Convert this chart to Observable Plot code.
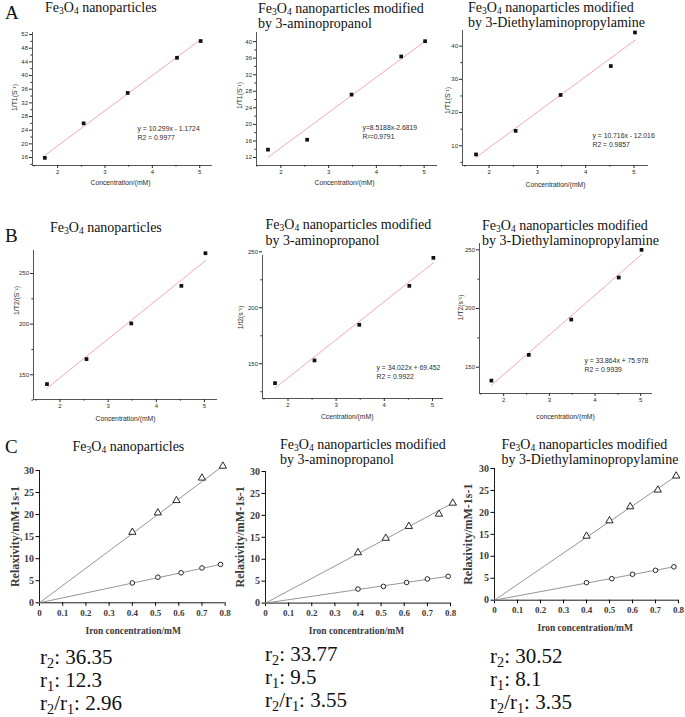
<!DOCTYPE html>
<html><head><meta charset="utf-8">
<script src="https://cdn.jsdelivr.net/npm/d3@7"></script>
<script src="https://cdn.jsdelivr.net/npm/@observablehq/plot@0.6"></script>
<style>
body{margin:0;background:#fff;}
#fig{position:relative;width:685px;height:717px;overflow:hidden;background:#fff;}
.t{position:absolute;font-family:"Liberation Serif","Times New Roman",Tinos,"DejaVu Serif",serif;white-space:nowrap;color:#111;}
.t sub{font-size:0.68em;vertical-align:-0.26em;line-height:0;}
</style></head><body><div id="fig"></div><script>
// ---------- data ----------
const concentration = [1.73, 2.55, 3.48, 4.52, 5.02];
const invT1_Fe3O4 = [15.9, 26.0, 34.9, 45.2, 50.1];
const invT1_AP = [13.9, 16.3, 27.2, 36.4, 40.1];
const invT1_DEAPA = [7.4, 14.5, 25.3, 34.0, 44.1];
const invT2_Fe3O4 = [140.8, 165.5, 200.7, 237.8, 270.0];
const invT2_AP = [132.7, 153.0, 184.8, 219.6, 244.6];
const invT2_DEAPA = [138.6, 160.5, 190.6, 226.4, 250.0];
const fitT1Slope = [10.299, 8.5188, 10.716];
const fitT1Intercept = [-1.1724, -2.6819, -12.016];
const fitT2Slope = [38.3, 34.022, 33.864];
const fitT2Intercept = [70.5, 69.452, 75.978];
const eqT1 = ["y = 10.299x - 1.1724\nR2 = 0.9977", "y=8.5188x-2.6819\nR²=0.9791", "y = 10.716x - 12.016\nR2 = 0.9857"];
const eqT2 = [null, "y = 34.022x + 69.452\nR2 = 0.9922", "y = 33.864x + 75.978\nR2 = 0.9939"];

const concTicks = [2, 3, 4, 5];
const concMinor = [1.5, 2.5, 3.5, 4.5];
const t1TicksA1 = [16, 20, 24, 28, 32, 36, 40, 44, 48, 52];
const t1MinorA1 = [14, 18, 22, 26, 30, 34, 38, 42, 46, 50];
const t1TicksA2 = [12, 16, 20, 24, 28, 32, 36, 40];
const t1MinorA2 = [14, 18, 22, 26, 30, 34, 38];
const t1TicksA3 = [10, 20, 30, 40];
const t1MinorA3 = [5, 15, 25, 35];
const t2Ticks = [150, 200, 250];
const t2Minor = [125, 175, 225];

// Relaxivity panels (r2: triangles, r1: circles)
const ironR2_Fe3O4 = [0.40, 0.51, 0.59, 0.70, 0.79];
const r2_Fe3O4 = [16.0, 20.4, 23.2, 28.3, 31.0];
const ironR1_Fe3O4 = [0.40, 0.51, 0.61, 0.70, 0.78];
const r1_Fe3O4 = [4.5, 5.8, 6.8, 7.9, 8.7];
const ironR2_AP = [0.40, 0.52, 0.62, 0.75, 0.81];
const r2_AP = [11.5, 14.8, 17.5, 20.3, 22.8];
const ironR1_AP = [0.40, 0.51, 0.61, 0.70, 0.79];
const r1_AP = [3.2, 3.8, 4.7, 5.5, 6.1];
const ironR2_DEAPA = [0.40, 0.50, 0.59, 0.71, 0.79];
const r2_DEAPA = [14.6, 18.1, 21.3, 25.1, 28.3];
const ironR1_DEAPA = [0.40, 0.51, 0.60, 0.70, 0.78];
const r1_DEAPA = [4.0, 4.9, 5.9, 6.8, 7.6];
const ironTicks = [0, 0.1, 0.2, 0.3, 0.4, 0.5, 0.6, 0.7, 0.8];
const relaxTicks = [0, 5, 10, 15, 20, 25, 30];

const titleFe = "Fe<sub>3</sub>O<sub>4</sub> nanoparticles";
const titleAP = "Fe<sub>3</sub>O<sub>4</sub> nanoparticles modified<br>by 3-aminopropanol";
const titleDEAPA = "Fe<sub>3</sub>O<sub>4</sub> nanoparticles modified<br>by 3-Diethylaminopropylamine";
const r2Text = ["36.35", "33.77", "30.52"];
const r1Text = ["12.3", "9.5", "8.1"];
const ratioText = ["2.96", "3.55", "3.35"];

// ---------- drawing ----------
const fig = document.getElementById("fig");
function addText(html, left, top, size, lh, extra) {
  const d = document.createElement("div");
  d.className = "t";
  d.innerHTML = html;
  d.style.left = left + "px"; d.style.top = top + "px";
  d.style.fontSize = size + "px"; d.style.lineHeight = lh + "px";
  if (extra) Object.assign(d.style, extra);
  fig.appendChild(d);
}
function place(svg, left, top) {
  svg.style.position = "absolute";
  svg.style.left = left + "px";
  svg.style.top = top + "px";
  fig.appendChild(svg);
}
const ML = 45, MR = 12, MT = 12, MB = 34;

function scatterPanel(o) {
  const [fx0, fx1, fy0, fy1] = o.frame;
  const ink = "#2b2b2b";
  const pts = o.xs.map((x, i) => ({x, y: o.ys[i]}));
  const fitPts = [o.xs[0], o.xs[o.xs.length - 1]].map(x => ({x, y: o.slope * x + o.intercept}));
  const marks = [
    Plot.ruleX([o.xDomain[0]], {stroke: ink, strokeWidth: 0.8}),
    Plot.ruleY([o.yDomain[0]], {stroke: ink, strokeWidth: 0.8}),
    Plot.axisX({ticks: o.xTicks, tickSize: 3, tickPadding: 1.5, fontSize: 6, color: ink, tickFormat: d => String(d), label: null}),
    Plot.axisX({ticks: o.xMinor, tickSize: 1.6, color: ink, tickFormat: () => "", label: null}),
    Plot.axisY({ticks: o.yTicks, tickSize: 3, tickPadding: 1.5, fontSize: 6, color: ink, tickFormat: d => String(d), label: null}),
    Plot.axisY({ticks: o.yMinor, tickSize: 1.6, color: ink, tickFormat: () => "", label: null}),
    Plot.line(fitPts, {x: "x", y: "y", stroke: "#f3a0a0", strokeWidth: 0.9}),
    Plot.dot(pts, {x: "x", y: "y", symbol: "square", fill: "#111", r: 2.1}),
    Plot.text([o.xLabel], {text: d => d, frameAnchor: "bottom", dx: o.xLabelPos[0] - (fx0 + fx1) / 2, dy: o.xLabelPos[1] - fy1, lineAnchor: "middle", fontSize: 6.8, fill: ink}),
    Plot.text([o.yLabel], {text: d => d, frameAnchor: "left", dx: o.yLabelPos[0] - fx0, dy: o.yLabelPos[1] - (fy0 + fy1) / 2, rotate: -90, textAnchor: "middle", lineAnchor: "middle", fontSize: 6.8, fill: ink})
  ];
  if (o.eq) marks.push(Plot.text([o.eq], {text: d => d, frameAnchor: "top-left", dx: o.eqPos[0] - fx0, dy: o.eqPos[1] - fy0, textAnchor: "start", lineAnchor: "middle", lineHeight: 1.32, fontSize: 6.8, fill: ink}));
  const svg = Plot.plot({
    width: fx1 - fx0 + ML + MR, height: fy1 - fy0 + MT + MB,
    marginLeft: ML, marginRight: MR, marginTop: MT, marginBottom: MB,
    x: {domain: o.xDomain, label: null}, y: {domain: o.yDomain, label: null},
    style: {background: "transparent", overflow: "visible", fontFamily: "'Liberation Sans', Arial, sans-serif", fontSize: "6px", color: ink},
    marks
  });
  place(svg, fx0 - ML, fy0 - MT);
}

function relaxPanel(o) {
  const [fx0, fx1, fy0, fy1] = o.frame;
  const tri = o.x2.map((x, i) => ({x, y: o.y2[i]}));
  const circ = o.x1.map((x, i) => ({x, y: o.y1[i]}));
  const line2 = [{x: 0, y: 0}, tri[tri.length - 1]];
  const line1 = [{x: 0, y: 0}, circ[circ.length - 1]];
  const txt = "#3a3a3a";
  const svg = Plot.plot({
    width: fx1 - fx0 + ML + MR, height: fy1 - fy0 + MT + MB,
    marginLeft: ML, marginRight: MR, marginTop: MT, marginBottom: MB,
    x: {domain: [0, 0.8], label: null}, y: {domain: [0, 30], label: null},
    style: {background: "transparent", overflow: "visible", fontFamily: "'Liberation Serif', 'Times New Roman', Tinos, serif", fontWeight: "bold", color: txt},
    marks: [
      Plot.ruleX([0], {stroke: "#000", strokeWidth: 0.9}),
      Plot.ruleY([0], {stroke: "#000", strokeWidth: 0.9}),
      Plot.axisX({ticks: ironTicks, tickSize: 3.5, tickPadding: 3, fontSize: 9, stroke: "#000", fill: txt, tickFormat: d => String(d), label: null}),
      Plot.axisY({ticks: relaxTicks, tickSize: 3.5, tickPadding: 2, fontSize: 10, stroke: "#000", fill: txt, tickFormat: d => String(d), label: null}),
      Plot.line(line2, {x: "x", y: "y", stroke: "#7a7a7a", strokeWidth: 0.8}),
      Plot.line(line1, {x: "x", y: "y", stroke: "#7a7a7a", strokeWidth: 0.8}),
      Plot.dot(tri, {x: "x", y: "y", symbol: "triangle", stroke: "#111", fill: "white", strokeWidth: 0.9, r: 2.7}),
      Plot.dot(circ, {x: "x", y: "y", symbol: "circle", stroke: "#111", fill: "white", strokeWidth: 0.9, r: 2.3}),
      Plot.text(["Iron concentration/mM"], {text: d => d, frameAnchor: "bottom", dx: o.xLabelPos[0] - (fx0 + fx1) / 2, dy: o.xLabelPos[1] - fy1, lineAnchor: "middle", fontSize: 9.5, fill: txt}),
      Plot.text(["Relaxivity/mM-1s-1"], {text: d => d, frameAnchor: "left", dx: o.yLabelPos[0] - fx0, dy: o.yLabelPos[1] - (fy0 + fy1) / 2, rotate: -90, textAnchor: "middle", lineAnchor: "middle", fontSize: 12, fill: txt})
    ]
  });
  place(svg, fx0 - ML, fy0 - MT);
}

// Row A
scatterPanel({frame: [32, 212, 32, 165], xDomain: [1.47, 5.27], yDomain: [13.66, 52.6], xs: concentration, ys: invT1_Fe3O4,
  slope: fitT1Slope[0], intercept: fitT1Intercept[0], xTicks: concTicks, xMinor: concMinor, yTicks: t1TicksA1, yMinor: t1MinorA1,
  xLabel: "Concentration/(mM)", xLabelPos: [120, 182.3], yLabel: "1/T1(S⁻¹)", yLabelPos: [14, 97], eq: eqT1[0], eqPos: [137, 132]});
scatterPanel({frame: [256, 437, 32, 165], xDomain: [1.49, 5.28], yDomain: [10.07, 42.2], xs: concentration, ys: invT1_AP,
  slope: fitT1Slope[1], intercept: fitT1Intercept[1], xTicks: concTicks, xMinor: concMinor, yTicks: t1TicksA2, yMinor: t1MinorA2,
  xLabel: "Concentration/(mM)", xLabelPos: [344, 182.7], yLabel: "1/T1(S⁻¹)", yLabelPos: [239, 95], eq: eqT1[1], eqPos: [362, 131.5]});
scatterPanel({frame: [462, 648, 30, 165], xDomain: [1.45, 5.30], yDomain: [4.07, 44.7], xs: concentration, ys: invT1_DEAPA,
  slope: fitT1Slope[2], intercept: fitT1Intercept[2], xTicks: concTicks, xMinor: concMinor, yTicks: t1TicksA3, yMinor: t1MinorA3,
  xLabel: "Concentration/(mM)", xLabelPos: [555, 184.3], yLabel: "1/T1(S⁻¹)", yLabelPos: [447, 100], eq: eqT1[2], eqPos: [592, 139]});
// Row B
scatterPanel({frame: [33, 217, 250, 399], xDomain: [1.45, 5.27], yDomain: [125.6, 272.7], xs: concentration, ys: invT2_Fe3O4,
  slope: fitT2Slope[0], intercept: fitT2Intercept[0], xTicks: concTicks, xMinor: concMinor, yTicks: t2Ticks, yMinor: t2Minor,
  xLabel: "Concentration/(mM)", xLabelPos: [125, 418], yLabel: "1/T2/(S⁻²)", yLabelPos: [16, 300], eq: eqT2[0]});
scatterPanel({frame: [262, 443, 255, 398], xDomain: [1.47, 5.23], yDomain: [119, 246.7], xs: concentration, ys: invT2_AP,
  slope: fitT2Slope[1], intercept: fitT2Intercept[1], xTicks: concTicks, xMinor: concMinor, yTicks: t2Ticks, yMinor: t2Minor,
  xLabel: "Ccentration/(mM)", xLabelPos: [346.7, 416], yLabel: "1/t2(s⁻¹)", yLabelPos: [240, 317], eq: eqT2[1], eqPos: [376, 371]});
scatterPanel({frame: [479, 652, 243, 393], xDomain: [1.47, 5.26], yDomain: [127.6, 255.4], xs: concentration, ys: invT2_DEAPA,
  slope: fitT2Slope[2], intercept: fitT2Intercept[2], xTicks: concTicks, xMinor: concMinor, yTicks: t2Ticks, yMinor: [175, 225],
  xLabel: "concentration/(mM)", xLabelPos: [565, 416], yLabel: "1/T2(s⁻¹)", yLabelPos: [460, 307], eq: eqT2[2], eqPos: [584, 364.5]});
// Row C
relaxPanel({frame: [39.3, 225, 470, 602.3], x2: ironR2_Fe3O4, y2: r2_Fe3O4, x1: ironR1_Fe3O4, y1: r1_Fe3O4, xLabelPos: [133, 630], yLabelPos: [15, 536]});
relaxPanel({frame: [265, 450, 470.7, 602.3], x2: ironR2_AP, y2: r2_AP, x1: ironR1_AP, y1: r1_AP, xLabelPos: [356, 630], yLabelPos: [240, 536]});
relaxPanel({frame: [494.3, 678.3, 468.3, 600], x2: ironR2_DEAPA, y2: r2_DEAPA, x1: ironR1_DEAPA, y1: r1_DEAPA, xLabelPos: [585, 628], yLabelPos: [468, 534]});

// panel letters
addText("A", 5, 4, 19, 18);
addText("B", 5, 227, 19, 18);
addText("C", 5, 438, 19, 18);
// titles
addText(titleFe, 45, 0, 14, 15);
addText(titleAP, 258, 0.5, 14, 15);
addText(titleDEAPA, 468, -0.5, 14, 15);
addText(titleFe, 50, 219.5, 14, 15);
addText(titleAP, 265.5, 217, 14, 15.5);
addText(titleDEAPA, 482, 217.5, 14, 15);
addText(titleFe, 72.5, 438.5, 14, 15);
addText(titleAP, 280, 437.3, 14, 15);
addText(titleDEAPA, 501.5, 437.3, 14, 15);
// relaxivity values
const colLeft = [40, 265, 490];
const colTop = [645.5, 642.5, 644.5];
for (let i = 0; i < 3; i++) {
  addText(`r<sub>2</sub>: ${r2Text[i]}<br>r<sub>1</sub>: ${r1Text[i]}<br>r<sub>2</sub>/r<sub>1</sub>: ${ratioText[i]}`, colLeft[i], colTop[i], 21, 23);
}
</script></body></html>
